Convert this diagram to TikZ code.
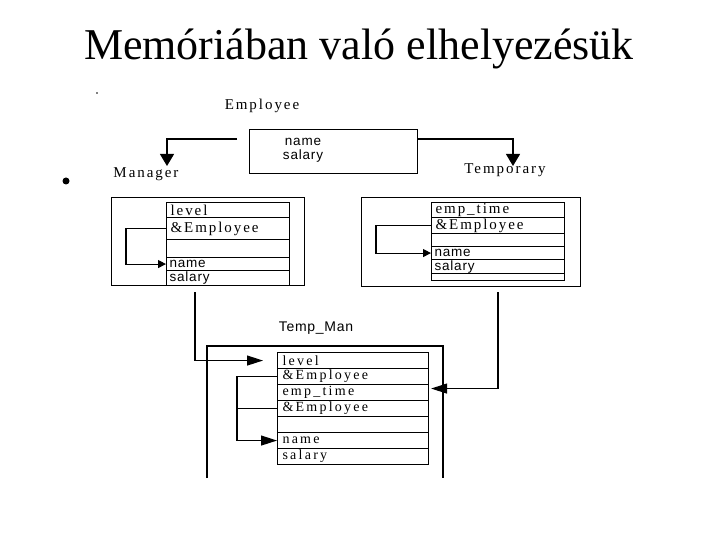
\documentclass[tikz,border=0pt]{standalone}
\usepackage{fontspec}
\setmainfont{Liberation Serif}
\newfontfamily\spserif[LetterSpace=13]{Liberation Serif}
\newfontfamily\spserifb[LetterSpace=16]{Liberation Serif}
\newfontfamily\spsans[LetterSpace=6]{Liberation Sans}
\newfontfamily\tmsans[LetterSpace=5]{Liberation Sans}
\usetikzlibrary{arrows.meta}
\begin{document}
\begin{tikzpicture}[x=1pt,y=-1pt,
  every path/.style={line width=1.1pt},
  outer/.style={draw,line width=1.1pt,anchor=north west,inner sep=0pt},
  row/.style={draw,line width=1.1pt,anchor=north west,inner ysep=0pt,inner xsep=4pt,align=left,text width=#1},
  erow/.style={draw,line width=1.1pt,anchor=north west,inner sep=0pt},
  tser/.style={font=\spserif\fontsize{15}{16}\selectfont},
  tserm/.style={font=\spserifb\fontsize{14}{15}\selectfont},
  tsan/.style={font=\spsans\fontsize{13.5}{15}\selectfont},
  lbl/.style={font=\spserif\fontsize{15}{16}\selectfont,inner sep=0pt},
  big/.style={-{Triangle[width=14pt,length=12pt]}},
  mid/.style={-{Triangle[width=10pt,length=16pt]}},
  small/.style={-{Triangle[width=8pt,length=8pt]}}]
\useasboundingbox (0,0) rectangle (720,540);

% title
\node[anchor=base,inner sep=0pt,font=\fontsize{44}{50}\selectfont] (title) at (359,60) {Memóriában való elhelyezésük};
\fill (66,181) circle (3.5pt) coordinate (bullet);
\fill (97,93) circle (0.8pt) coordinate (dot);

% Employee
\node[lbl] (emplbl) at (262,106) {Employee};
\node[outer,minimum width=168pt,minimum height=44pt] (emp) at (249,129) {};
\node[tsan,align=center,inner sep=0pt] (emptxt) at (303,150) {name\\[-1pt]salary};
\node[lbl] (mgrlbl) at (146,174) {Manager};
\node[lbl] (tmplbl) at (505,170) {Temporary};
\coordinate (e1) at (237,139);
\coordinate (e1tip) at (167,166);
\coordinate (e2) at (417,139);
\coordinate (e2tip) at (513,166);
\draw[big] (e1) -| (e1tip);
\draw[big] (e2) -| (e2tip);

% Manager
\node[outer,minimum width=193pt,minimum height=88pt] (mgr) at (111,197) {};
\node[row=115pt,tser,minimum height=15pt] (m1) at (166,202) {level};
\node[row=115pt,tser,minimum height=22pt] (m2) at (166,217) {\&Employee};
\node[erow,minimum width=123pt,minimum height=18pt] (m3) at (166,239) {};
\node[row=117pt,tsan,minimum height=13pt,inner xsep=3pt] (m4) at (166,257) {name};
\node[row=117pt,tsan,minimum height=15pt,inner xsep=3pt] (m5) at (166,270) {salary};
\draw[small] (m2.west) -- ++(-40,0) |- (m4.west);

% Temporary
\node[outer,minimum width=219pt,minimum height=89pt] (tmp) at (361,197) {};
\node[row=125pt,tser,minimum height=15pt] (t1) at (431,202) {emp\_time};
\node[row=125pt,tser,minimum height=16pt] (t2) at (431,217) {\&Employee};
\node[erow,minimum width=133pt,minimum height=13pt] (t3) at (431,233) {};
\node[row=127pt,tsan,minimum height=13pt,inner xsep=3pt] (t4) at (431,246) {name};
\node[row=127pt,tsan,minimum height=14pt,inner xsep=3pt] (t5) at (431,259) {salary};
\node[erow,minimum width=133pt,minimum height=7pt] (t6) at (431,273) {};
\draw[small] (t2.west) -- ++(-55,0) |- (t4.west);

% Temp_Man
\node[font=\tmsans\fontsize{14}{16}\selectfont,inner sep=0pt] (tmlbl) at (316,328) {Temp\_Man};
\draw (207,478) coordinate (tmbl) -- (207,346) coordinate (tmtl) -- (443,346) coordinate (tmtr) -- (443,478) coordinate (tmbr);
\node[row=141pt,tserm,minimum height=16pt,inner xsep=5pt] (tm1) at (277,352) {level};
\node[row=141pt,tserm,minimum height=16pt,inner xsep=5pt] (tm2) at (277,368) {\&Employee};
\node[row=141pt,tserm,minimum height=16pt,inner xsep=5pt] (tm3) at (277,384) {emp\_time};
\node[row=141pt,tserm,minimum height=16pt,inner xsep=5pt] (tm4) at (277,400) {\&Employee};
\node[erow,minimum width=151pt,minimum height=16pt] (tm5) at (277,416) {};
\node[row=141pt,tserm,minimum height=16pt,inner xsep=5pt] (tm6) at (277,432) {name};
\node[row=141pt,tserm,minimum height=16pt,inner xsep=5pt] (tm7) at (277,448) {salary};
\draw[mid] (tm2.west) -- ++(-40,0) |- (tm6.west);
\draw (tm4.west) -- ++(-40,0);

% connectors to Temp_Man
\coordinate (c1) at (195,292);
\coordinate (c2) at (498,292);
\draw[mid] (c1) |- ([xshift=-14pt]tm1.west);
\draw[mid] (c2) |- ([xshift=2pt,yshift=4pt]tm3.east);
\end{tikzpicture}
\end{document}
